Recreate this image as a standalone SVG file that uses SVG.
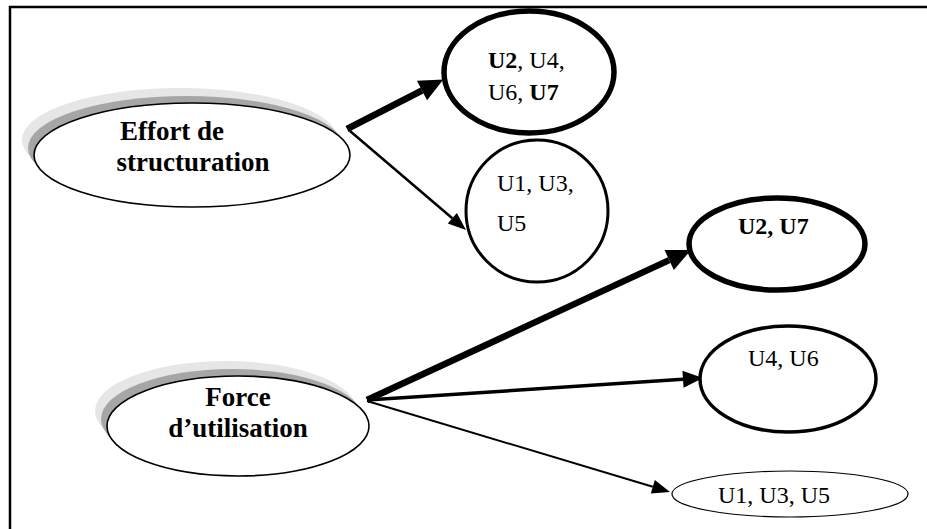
<svg xmlns="http://www.w3.org/2000/svg" width="927" height="529" viewBox="0 0 927 529">
  <defs>
    <style>
      .frame { stroke: #000; stroke-width: 2.5; fill: none; }
      .node { fill: #fff; stroke: #000; }
      .sh1 { fill: #e6e6e6; }
      .sh2 { fill: #a6a6a6; }
      .main { font-family: "Liberation Serif", "Times New Roman", serif; font-size: 27px; font-weight: bold; fill: #000; text-anchor: middle; }
      .lbl { font-family: "Liberation Serif", "Times New Roman", serif; font-size: 24px; fill: #000; }
      .b { font-weight: bold; }
      .edge { stroke: #000; fill: none; }
    </style>
    <marker id="headL" markerUnits="userSpaceOnUse" markerWidth="30" markerHeight="30" refX="0" refY="0" viewBox="0 -15 30 30" orient="auto" overflow="visible">
      <path d="M0,-11 L24,0 L0,11 Z" fill="#000"/>
    </marker>
    <marker id="headM" markerUnits="userSpaceOnUse" markerWidth="24" markerHeight="24" refX="0" refY="0" viewBox="0 -12 24 24" orient="auto" overflow="visible">
      <path d="M0,-8.5 L20,0 L0,8.5 Z" fill="#000"/>
    </marker>
    <marker id="headS" markerUnits="userSpaceOnUse" markerWidth="22" markerHeight="22" refX="0" refY="0" viewBox="0 -11 22 22" orient="auto" overflow="visible">
      <path d="M0,-7 L18,0 L0,7 Z" fill="#000"/>
    </marker>
  </defs>

  <!-- page frame (top and left rules) -->
  <path class="frame" d="M10,529 L10,7 L927,7"/>

  <!-- connectors -->
  <g id="connectors">
    <line class="edge" x1="347" y1="129" x2="422" y2="90.5" stroke-width="6.5" marker-end="url(#headL)"/>
    <line class="edge" x1="350" y1="131" x2="452.3" y2="218.3" stroke-width="2.5" marker-end="url(#headS)"/>
    <line class="edge" x1="367" y1="400" x2="669.2" y2="260.1" stroke-width="6.5" marker-end="url(#headL)"/>
    <line class="edge" x1="367" y1="400" x2="683" y2="379.3" stroke-width="3.5" marker-end="url(#headM)"/>
    <line class="edge" x1="367" y1="401" x2="652.8" y2="486.8" stroke-width="2" marker-end="url(#headS)"/>
  </g>

  <!-- source nodes with soft offset shadow -->
  <g id="effort">
    <ellipse class="sh1" cx="180" cy="140" rx="158" ry="52"/>
    <ellipse class="sh2" cx="186" cy="148" rx="158" ry="52"/>
    <ellipse class="node" cx="192" cy="155" rx="158" ry="52" stroke-width="1.6"/>
    <text class="main" x="172" y="140">Effort de</text>
    <text class="main" x="193" y="171">structuration</text>
  </g>

  <g id="force">
    <ellipse class="sh1" cx="226" cy="411" rx="131" ry="50"/>
    <ellipse class="sh2" cx="232" cy="419" rx="131" ry="50"/>
    <ellipse class="node" cx="238" cy="426" rx="131" ry="50" stroke-width="1.6"/>
    <text class="main" x="238" y="406">Force</text>
    <text class="main" x="238" y="437">d’utilisation</text>
  </g>

  <!-- target nodes -->
  <g id="u2u4u6u7">
    <ellipse class="node" cx="529" cy="72" rx="85" ry="61" stroke-width="5.5"/>
    <text class="lbl" x="488" y="68"><tspan class="b">U2</tspan>, U4,</text>
    <text class="lbl" x="488" y="100">U6, <tspan class="b">U7</tspan></text>
  </g>

  <g id="u1u3u5-a">
    <ellipse class="node" cx="537" cy="211" rx="71" ry="71" stroke-width="3"/>
    <text class="lbl" x="497" y="191">U1, U3,</text>
    <text class="lbl" x="497" y="231">U5</text>
  </g>

  <g id="u2u7">
    <ellipse class="node" cx="777" cy="244" rx="88" ry="46" stroke-width="5.5"/>
    <text class="lbl b" x="738" y="234">U2, U7</text>
  </g>

  <g id="u4u6">
    <ellipse class="node" cx="788" cy="379" rx="88" ry="53" stroke-width="3.5"/>
    <text class="lbl" x="748" y="366">U4, U6</text>
  </g>

  <g id="u1u3u5-b">
    <ellipse class="node" cx="790" cy="494" rx="118" ry="23" stroke-width="1.2"/>
    <text class="lbl" x="718" y="503">U1, U3, U5</text>
  </g>
</svg>
